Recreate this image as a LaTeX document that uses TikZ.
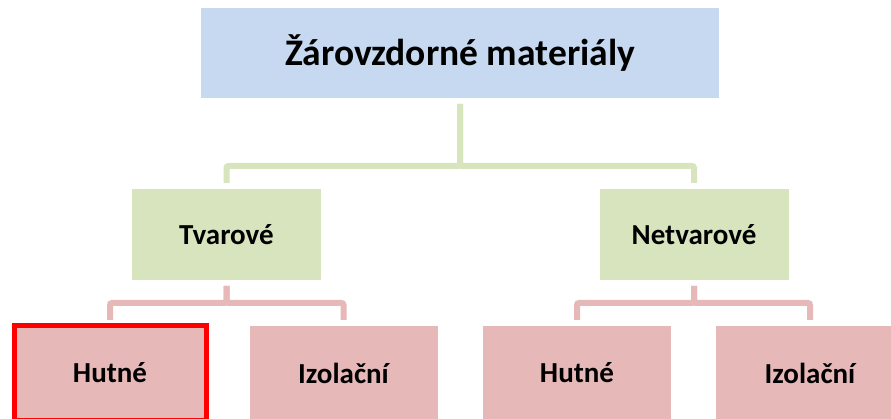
\documentclass[tikz,border=0pt]{standalone}
\usepackage{fontspec}
\setmainfont{Carlito}
\definecolor{topblue}{HTML}{C6D9F0}
\definecolor{lvlgreen}{HTML}{D7E4BD}
\definecolor{lvlpink}{HTML}{E6B9B8}
\begin{document}
\begin{tikzpicture}[x=1pt, y=-1pt,
	box/.style={inner sep=0pt, outer sep=0pt, font=\bfseries\fontsize{29}{29}\selectfont},
	topbox/.style={box, fill=topblue, minimum width=518pt, minimum height=90pt, font=\bfseries\fontsize{37.5}{37.5}\selectfont},
	greenbox/.style={box, fill=lvlgreen, minimum width=189pt, minimum height=91pt},
	pinkbox/.style={box, fill=lvlpink, minimum width=188pt, minimum height=94pt, anchor=north},
	gline/.style={lvlgreen, line width=6pt, rounded corners=2pt},
	pline/.style={lvlpink, line width=6pt, rounded corners=2pt}]
	
	\useasboundingbox (0, 0) rectangle (891, 419);
	
	\node[topbox] (main) at (460, 53) {Žárovzdorné materiály};
	
	\node[greenbox] (tvar) at (226.5, 234.5) {Tvarové};
	\node[greenbox] (netvar) at (694, 234.5) {Netvarové};
	
	\node[pinkbox, minimum width=192pt, draw=red, line width=5pt] (tvhut) at (110, 326) {Hutné};
	\node[pinkbox] (tviz) at (343.5, 326) {Izolační};
	\node[pinkbox] (nthut) at (577, 326) {Hutné};
	\node[pinkbox] (ntiz) at (810, 326) {Izolační};
	
	\draw[gline] ([yshift=-6pt]main.south) -- ++(0, 62) -| ([yshift=6pt]tvar.north);
	\draw[gline] ([yshift=-6pt]main.south) -- ++(0, 62) -| ([yshift=6pt]netvar.north);
	
	\draw[pline] ([yshift=-6pt]tvar.south) -- ++(0, 17) -| ([yshift=6pt]tvhut.north);
	\draw[pline] ([yshift=-6pt]tvar.south) -- ++(0, 17) -| ([yshift=6pt]tviz.north);
	\draw[pline] ([yshift=-6pt]netvar.south) -- ++(0, 17) -| ([yshift=6pt]nthut.north);
	\draw[pline] ([yshift=-6pt]netvar.south) -- ++(0, 17) -| ([yshift=6pt]ntiz.north);
	
\end{tikzpicture}
\end{document}
